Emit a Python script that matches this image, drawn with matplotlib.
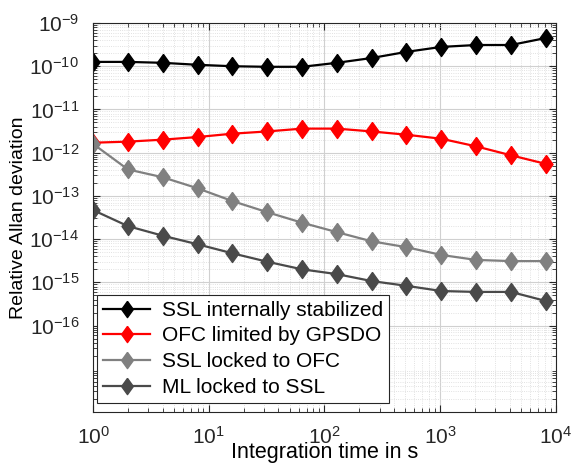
import numpy as np
import matplotlib.pyplot as plt
from matplotlib.ticker import LogLocator, NullFormatter

tau = [1, 2, 4, 8, 16, 32, 64, 128, 256, 512, 1024, 2048, 4096, 8192]

ssl_internal = [1.26e-10, 1.26e-10, 1.2e-10, 1.08e-10, 1.0e-10, 9.7e-11, 9.7e-11,
                1.2e-10, 1.55e-10, 2.15e-10, 2.8e-10, 3.1e-10, 3.1e-10, 4.5e-10]
ofc_gpsdo = [1.7e-12, 1.8e-12, 2.0e-12, 2.3e-12, 2.75e-12, 3.1e-12, 3.6e-12,
             3.6e-12, 3.1e-12, 2.6e-12, 2.1e-12, 1.4e-12, 8.7e-13, 5.5e-13]
ssl_ofc = [1.6e-12, 4.1e-13, 2.7e-13, 1.5e-13, 7.6e-14, 4.2e-14, 2.4e-14,
           1.45e-14, 8.9e-15, 6.5e-15, 4.3e-15, 3.3e-15, 3.1e-15, 3.1e-15]
ml_ssl = [4.7e-14, 2.0e-14, 1.2e-14, 7.6e-15, 4.7e-15, 3.0e-15, 2.0e-15,
          1.55e-15, 1.07e-15, 8.3e-16, 6.3e-16, 6.0e-16, 6.0e-16, 3.7e-16]

labels = ['SSL internally stabilized', 'OFC limited by GPSDO',
          'SSL locked to OFC', 'ML locked to SSL']
colors = ['black', '#ff0000', '#808080', '#4a4a4a']

plt.rcParams['font.family'] = ['Liberation Sans', 'DejaVu Sans']

# matlab-like diamond, a bit wider than matplotlib's thin diamond
diamond = [(0, 1), (0.72, 0), (0, -1), (-0.72, 0), (0, 1)]

fig = plt.figure(figsize=(5.76, 4.65), dpi=100)
ax = fig.add_axes([0.1615, 0.114, 0.8035, 0.8365])

for y, lab, c in zip([ssl_internal, ofc_gpsdo, ssl_ofc, ml_ssl], labels, colors):
    ax.loglog(tau, y, '-', color=c, lw=1.6, marker=diamond, ms=13, mfc=c, mec=c, label=lab)

ax.set_xlim(1, 1e4)
ax.set_ylim(1e-18, 1e-9)
ax.set_yticks([1e-16, 1e-15, 1e-14, 1e-13, 1e-12, 1e-11, 1e-10, 1e-9])
ax.yaxis.set_minor_locator(LogLocator(base=10, subs=np.arange(2, 10), numticks=30))
ax.yaxis.set_minor_formatter(NullFormatter())
ax.xaxis.set_minor_locator(LogLocator(base=10, subs=np.arange(2, 10), numticks=30))

ax.grid(True, which='major', color='#d0d0d0', lw=0.8, ls='-')
ax.grid(True, which='minor', color='#d8d8d8', lw=0.6, ls=':')
ax.set_axisbelow(True)

ax.tick_params(which='both', direction='in', top=True, right=True, labelsize=15,
               colors='#262626')
ax.tick_params(which='major', length=5, pad=10)
ax.tick_params(which='minor', length=3)
for s in ax.spines.values():
    s.set_color('#262626')
    s.set_linewidth(0.8)

ax.set_xlabel('Integration time in s', fontsize=15.5, labelpad=-4)
ax.set_ylabel('Relative Allan deviation', fontsize=14, labelpad=2)

leg = ax.legend(loc='lower left', bbox_to_anchor=(0.0086, 0.023), fontsize=15,
                fancybox=False, framealpha=1, edgecolor='#262626',
                handlelength=2.25, borderaxespad=0, labelspacing=0.32,
                borderpad=0.3, handletextpad=0.55, markerscale=0.9)
leg.get_frame().set_linewidth(0.8)

fig.savefig('out.png', dpi=100)
